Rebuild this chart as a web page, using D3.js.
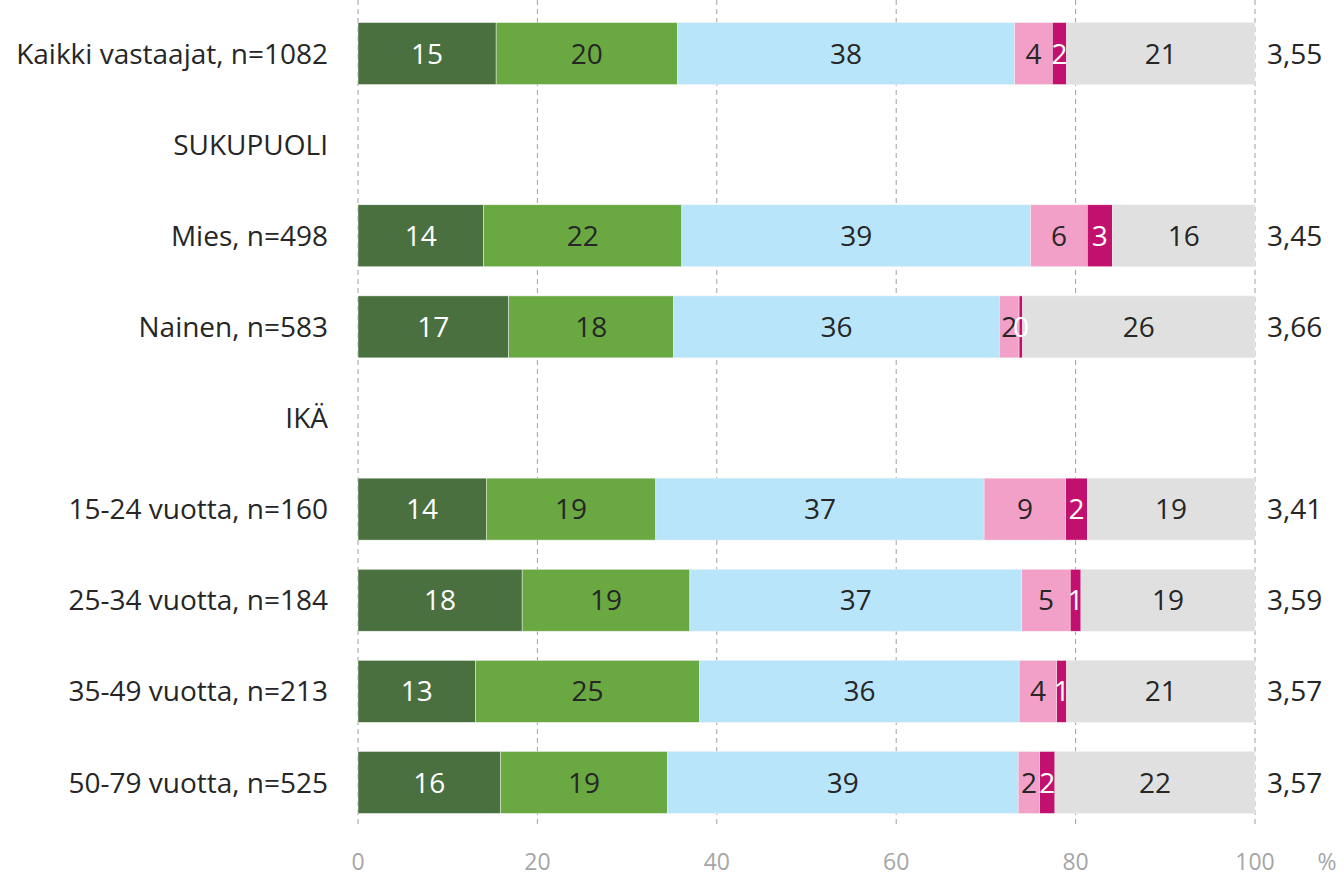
<!DOCTYPE html>
<html>
<head>
<meta charset="utf-8">
<script src="https://cdn.jsdelivr.net/npm/d3@7"></script>
<style>
  body { margin: 0; background: #fff; }
  svg text { font-family: "Open Sans", "Noto Sans", sans-serif; }
</style>
</head>
<body>
<svg width="1344" height="879"></svg>
<script>
const rows = [
  "Kaikki vastaajat, n=1082", "SUKUPUOLI", "Mies, n=498", "Nainen, n=583", "IKÄ",
  "15-24 vuotta, n=160", "25-34 vuotta, n=184", "35-49 vuotta, n=213", "50-79 vuotta, n=525"
];
// segment values (%), null for header rows
const s1 = [15.4, null, 14.0, 16.8, null, 14.3, 18.3, 13.1, 15.9];
const s2 = [20.2, null, 22.1, 18.4, null, 18.9, 18.7, 25.0, 18.6];
const s3 = [37.6, null, 38.9, 36.3, null, 36.6, 37.0, 35.6, 39.1];
const s4 = [4.2, null, 6.3, 2.2, null, 9.1, 5.4, 4.2, 2.4];
const s5 = [1.6, null, 2.8, 0.4, null, 2.4, 1.2, 1.1, 1.7];
const s6 = [21.0, null, 15.9, 25.9, null, 18.7, 19.4, 21.0, 22.3];
const means = [3.55, null, 3.45, 3.66, null, 3.41, 3.59, 3.57, 3.57];
const ticks = [0, 20, 40, 60, 80, 100];

const fills = ["#4a7040", "#6aa842", "#b9e5fb", "#f3a0c8", "#c2106e", "#e0e0e0"];
const textCols = ["#fff", "#262626", "#262626", "#262626", "#fff", "#262626"];

const svg = d3.select("svg");
const x = d3.scaleLinear().domain([0, 100]).range([358, 1255]);
const y = d3.scaleBand().domain(rows).range([8, 828]).paddingInner(0.32).paddingOuter(0.16);

const series = [s1, s2, s3, s4, s5, s6];
const data = rows.map((r, i) => {
  if (s1[i] == null) return { row: r, segs: [] };
  let acc = 0;
  const segs = series.map((s, k) => {
    const seg = { k, v: s[i], x0: acc, x1: acc + s[i] };
    acc += s[i];
    return seg;
  });
  return { row: r, segs };
});

// gridlines
svg.append("g").selectAll("line")
  .data(ticks)
  .join("line")
  .attr("x1", d => x(d)).attr("x2", d => x(d))
  .attr("y1", 0).attr("y2", 824)
  .attr("stroke", "#a0a0a0")
  .attr("stroke-width", 1)
  .attr("stroke-dasharray", "5,4");

// bars
const rowG = svg.append("g").selectAll("g")
  .data(data)
  .join("g")
  .attr("transform", d => `translate(0,${y(d.row)})`);

rowG.selectAll("rect")
  .data(d => d.segs)
  .join("rect")
  .attr("x", d => x(d.x0))
  .attr("width", d => x(d.x1) - x(d.x0))
  .attr("height", y.bandwidth())
  .attr("fill", d => fills[d.k])
  .attr("stroke", "#f2f2f2")
  .attr("stroke-width", 0.5);

rowG.selectAll("text")
  .data(d => d.segs)
  .join("text")
  .attr("x", d => (x(d.x0) + x(d.x1)) / 2)
  .attr("y", y.bandwidth() / 2)
  .attr("dy", "0.36em")
  .attr("text-anchor", "middle")
  .attr("font-size", 28)
  .attr("fill", d => textCols[d.k])
  .text(d => Math.round(d.v));

// category labels
svg.append("g").selectAll("text")
  .data(rows)
  .join("text")
  .attr("x", 328)
  .attr("y", d => y(d) + y.bandwidth() / 2)
  .attr("dy", "0.36em")
  .attr("text-anchor", "end")
  .attr("font-size", 28)
  .attr("fill", "#262626")
  .text(d => d);

// means
svg.append("g").selectAll("text")
  .data(rows.map((r, i) => ({ r, m: means[i] })).filter(d => d.m != null))
  .join("text")
  .attr("x", 1267)
  .attr("y", d => y(d.r) + y.bandwidth() / 2)
  .attr("dy", "0.36em")
  .attr("font-size", 28)
  .attr("fill", "#262626")
  .text(d => d.m.toFixed(2).replace(".", ","));

// x axis tick labels
svg.append("g").selectAll("text")
  .data(ticks)
  .join("text")
  .attr("x", d => x(d))
  .attr("y", 862)
  .attr("dy", "0.36em")
  .attr("text-anchor", "middle")
  .attr("font-size", 23)
  .attr("fill", "#a6a6a6")
  .text(d => d);

svg.append("text")
  .attr("x", 1327)
  .attr("y", 862)
  .attr("dy", "0.36em")
  .attr("text-anchor", "middle")
  .attr("font-size", 23)
  .attr("fill", "#a6a6a6")
  .text("%");
</script>
</body>
</html>
